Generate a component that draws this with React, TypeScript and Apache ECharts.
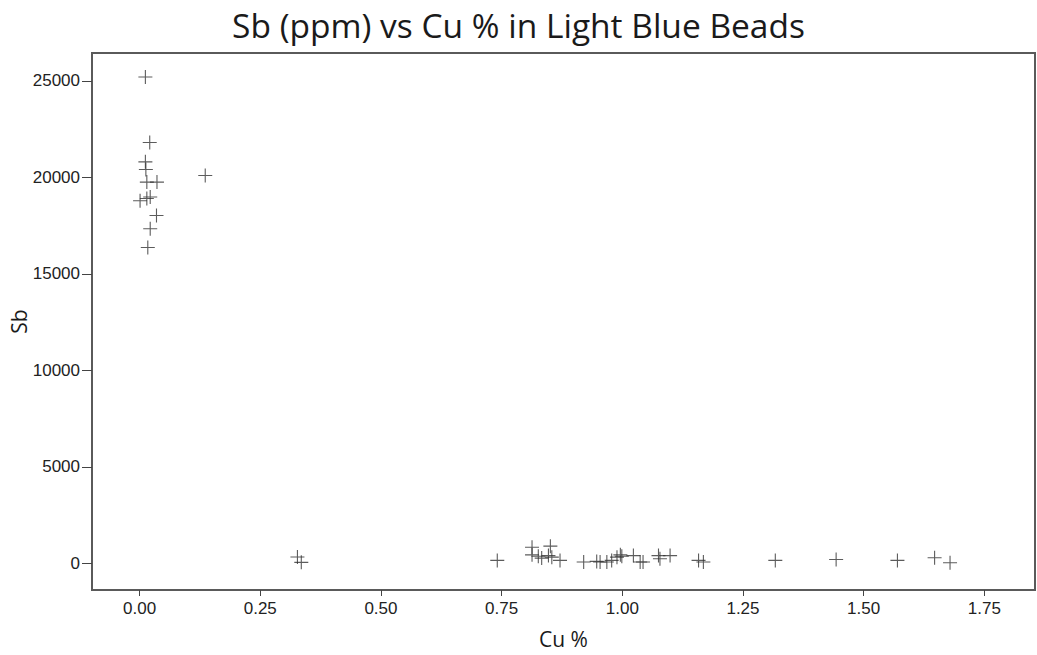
import React, { useEffect, useRef } from "react";
import * as echarts from "echarts";

const titleText = "Sb (ppm) vs Cu % in Light Blue Beads";
const xName = "Cu %";
const yName = "Sb";

const cuPct = [
  0.012, 0.021, 0.012, 0.013, 0.136, 0.015, 0.036, 0.001, 0.015, 0.022, 0.035, 0.022, 0.017,
  0.327, 0.335,
  0.741, 0.813, 0.813, 0.826, 0.833, 0.851, 0.847, 0.854, 0.871, 0.92, 0.947,
  0.954, 0.968, 0.978, 0.989, 0.996, 0.999, 1.023, 1.037, 1.043, 1.075, 1.078, 1.099, 1.158, 1.168,
  1.317, 1.443, 1.57, 1.647, 1.679,
];
const sbPpm = [
  25210, 21810, 20810, 20410, 20100, 19760, 19760, 18790, 18910, 18990, 18030, 17340, 16370,
  330, 50,
  150, 830, 440, 370, 270, 890, 400, 320, 150, 70, 100,
  70, 70, 150, 320, 440, 370, 400, 70, 70, 400, 240, 400, 150, 70,
  150, 200, 150, 290, 30,
];

const xTicks = [0, 0.25, 0.5, 0.75, 1.0, 1.25, 1.5, 1.75];
const yTicks = [0, 5000, 10000, 15000, 20000, 25000];

const plusPath =
  "path://M6.45,0H7.55V6.45H14V7.55H7.55V14H6.45V7.55H0V6.45H6.45Z";

export default function App() {
  const ref = useRef<HTMLDivElement>(null);
  useEffect(() => {
    if (!ref.current) return;
    const chart = echarts.init(ref.current, undefined, { renderer: "svg" });
    const points = cuPct.map((x, i) => [x, sbPpm[i]]);
    chart.setOption({
      animation: false,
      backgroundColor: "#ffffff",
      title: {
        text: titleText,
        left: "center",
        top: 3,
        textStyle: {
          fontFamily: "Open Sans",
          fontWeight: "normal",
          fontSize: 33.5,
          color: "#1a1a1a",
        },
      },
      grid: {
        left: 92,
        right: 2,
        top: 53,
        bottom: 65,
        containLabel: false,
        outerBoundsMode: "none",
        show: true,
        borderColor: "#5a5a5a",
        borderWidth: 2,
        backgroundColor: "#ffffff",
      },
      xAxis: {
        type: "value",
        min: -0.0986,
        max: 1.855,
        name: xName,
        nameLocation: "middle",
        nameGap: 38,
        nameMoveOverlap: false,
        nameTextStyle: { fontFamily: "Open Sans", fontSize: 21, color: "#1a1a1a" },
        axisLine: { show: true, onZero: false, lineStyle: { color: "#5a5a5a", width: 2 } },
        axisTick: { show: true, length: 6, customValues: xTicks, lineStyle: { color: "#444" } },
        axisLabel: {
          customValues: xTicks,
          formatter: (v: number) => v.toFixed(2),
          fontFamily: "Liberation Sans",
          fontSize: 17,
          color: "#222",
          margin: 10,
        },
        splitLine: { show: false },
      },
      yAxis: {
        type: "value",
        min: -1383,
        max: 26451,
        name: yName,
        nameLocation: "middle",
        nameGap: 63,
        nameMoveOverlap: false,
        nameTextStyle: { fontFamily: "Open Sans", fontSize: 21, color: "#1a1a1a" },
        axisLine: { show: true, onZero: false, lineStyle: { color: "#5a5a5a", width: 2 } },
        axisTick: { show: true, length: 10, customValues: yTicks, lineStyle: { color: "#444" } },
        axisLabel: {
          customValues: yTicks,
          formatter: (v: number) => String(Math.round(v)),
          fontFamily: "Liberation Sans",
          fontSize: 17,
          color: "#222",
          margin: 12,
        },
        splitLine: { show: false },
      },
      series: [
        {
          type: "scatter",
          data: points,
          symbol: plusPath,
          symbolSize: 14,
          itemStyle: { color: "#333" },
        },
      ],
    });
    return () => chart.dispose();
  }, []);
  return (
    <div
      ref={ref}
      style={{ position: "fixed", left: 0, top: 0, width: 1037, height: 655 }}
    />
  );
}
